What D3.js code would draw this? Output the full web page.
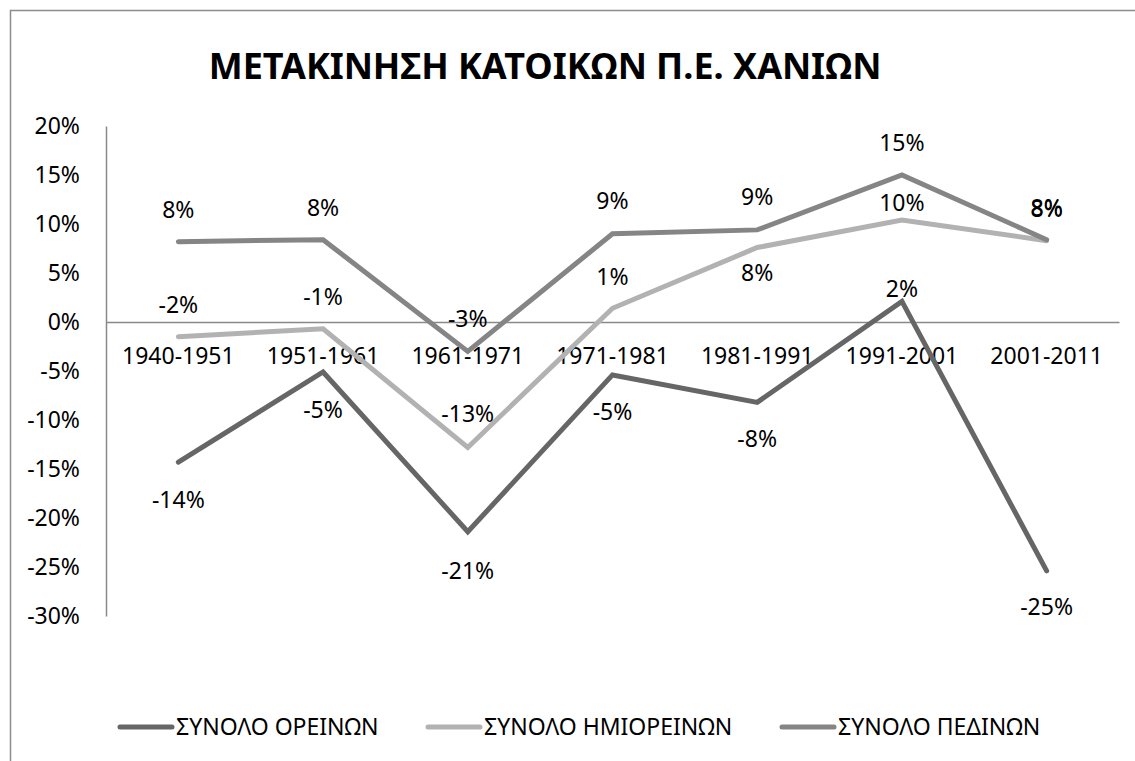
<!DOCTYPE html>
<html>
<head>
<meta charset="utf-8">
<script src="https://cdn.jsdelivr.net/npm/d3@7"></script>
<style>
  body { margin: 0; background: #fff; }
  svg { display: block; font-family: 'Noto Sans', sans-serif; }
</style>
</head>
<body>
<svg width="1135" height="761"></svg>
<script>
var title = 'ΜΕΤΑΚΙΝΗΣΗ ΚΑΤΟΙΚΩΝ Π.Ε. ΧΑΝΙΩΝ'
var periods = ['1940-1951', '1951-1961', '1961-1971', '1971-1981', '1981-1991', '1991-2001', '2001-2011']
var yTicks = [-0.30, -0.25, -0.20, -0.15, -0.10, -0.05, 0, 0.05, 0.10, 0.15, 0.20]

var seriesNames = ['ΣΥΝΟΛΟ ΟΡΕΙΝΩΝ', 'ΣΥΝΟΛΟ ΗΜΙΟΡΕΙΝΩΝ', 'ΣΥΝΟΛΟ ΠΕΔΙΝΩΝ']
var oreinon = [-0.143, -0.051, -0.214, -0.054, -0.082, 0.021, -0.254]
var imioreinon = [-0.015, -0.007, -0.128, 0.014, 0.076, 0.104, 0.083]
var pedinon = [0.082, 0.084, -0.030, 0.090, 0.094, 0.150, 0.084]

;(function (d3) {
  var svg = d3.select('svg')
  var colors = ['#666666', '#b2b2b2', '#858585']
  // label offsets in px from the point (Excel placed some by hand)
  var labelDy = [
    [38, 38, 39, 37, 37, -12, 36],
    [-32, -32, -33, -31, 25, -17, -32],
    [-32, -32, -32, -33, -33, -32, -32]
  ]

  svg.append('rect')
    .attr('width', 1135).attr('height', 761).attr('fill', '#fff')
  svg.append('rect')
    .attr('x', 10.5).attr('y', 10.5)
    .attr('width', 1300).attr('height', 1000)
    .attr('fill', 'none').attr('stroke', '#8c8c8c').attr('stroke-width', 1.5)

  svg.append('text')
    .attr('x', 545).attr('y', 79)
    .attr('text-anchor', 'middle')
    .style('font-weight', 'bold')
    .style('font-size', '36px')
    .text(title)

  var x = d3.scaleBand().domain(periods).range([106, 1119])
  var y = d3.scaleLinear().domain([-0.30, 0.20]).range([616, 126])
  var cx = function (d) { return x(d) + x.bandwidth() / 2 }
  var pct = d3.formatLocale({
    decimal: '.', thousands: ',', grouping: [3], currency: ['', ''], minus: '-'
  }).format('.0%')

  var yAxis = svg.append('g')
    .attr('transform', 'translate(106,0)')
    .call(d3.axisLeft(y).tickValues(yTicks).tickFormat(pct).tickSize(0).tickPadding(26))
  yAxis.select('.domain').attr('stroke', '#898989').attr('stroke-width', 1.5)
  yAxis.selectAll('text').style('font-size', '23px').style('font-family', 'Noto Sans').attr('fill', '#000')

  var xAxis = svg.append('g')
    .attr('transform', 'translate(0,' + y(0) + ')')
    .call(d3.axisBottom(x).tickSize(0).tickSizeOuter(0))
  xAxis.select('.domain').attr('stroke', '#898989').attr('stroke-width', 1.5)
  xAxis.selectAll('text')
    .attr('y', 34).attr('dy', '0.35em')
    .style('font-size', '23px').style('font-family', 'Noto Sans').attr('fill', '#000')

  var allSeries = [oreinon, imioreinon, pedinon]
  var line = d3.line()
    .x(function (d, i) { return cx(periods[i]) })
    .y(function (d) { return y(d) })

  svg.selectAll('path.series')
    .data(allSeries)
    .enter()
    .append('path')
    .attr('class', 'series')
    .attr('d', line)
    .attr('fill', 'none')
    .attr('stroke', function (d, i) { return colors[i] })
    .attr('stroke-width', 5)
    .attr('stroke-linecap', 'round')
    .attr('stroke-linejoin', 'miter')

  allSeries.forEach(function (vals, s) {
    svg.append('g').selectAll('text')
      .data(vals)
      .enter()
      .append('text')
      .attr('x', function (d, i) { return cx(periods[i]) })
      .attr('y', function (d, i) { return y(d) + labelDy[s][i] })
      .attr('dy', '0.35em')
      .attr('text-anchor', 'middle')
      .style('font-size', '23px')
      .text(function (d) { return pct(d) })
  })

  var legendX = [120, 428, 782]
  var legend = svg.append('g').selectAll('g')
    .data(seriesNames)
    .enter()
    .append('g')
    .attr('transform', function (d, i) { return 'translate(' + legendX[i] + ',727)' })
  legend.append('line')
    .attr('x1', 0).attr('x2', 52)
    .attr('stroke', function (d, i) { return colors[i] })
    .attr('stroke-width', 5)
    .attr('stroke-linecap', 'round')
  legend.append('text')
    .attr('x', 56).attr('dy', '0.35em')
    .style('font-size', '23px')
    .text(function (d) { return d })
})(window.d3)
</script>
</body>
</html>
